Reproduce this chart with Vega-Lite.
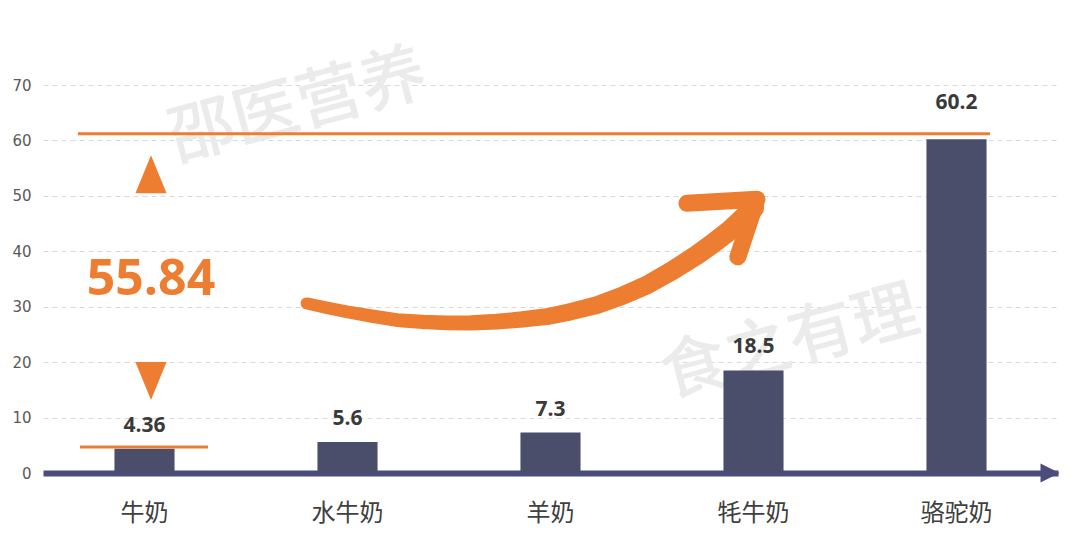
{
  "$schema": "https://vega.github.io/schema/vega-lite/v6.json",
  "width": 1015,
  "height": 388,
  "autosize": {"type": "none"},
  "padding": {"left": 43, "top": 85, "right": 22, "bottom": 62},
  "background": "white",
  "config": {
    "view": {"stroke": null},
    "axisY": {"labelFont": "DejaVu Sans", "labelFontSize": 15, "labelColor": "#595959", "labelPadding": 12}
  },
  "datasets": {
    "milk": [
      {"name": "牛奶", "value": 4.36},
      {"name": "水牛奶", "value": 5.6},
      {"name": "羊奶", "value": 7.3},
      {"name": "牦牛奶", "value": 18.5},
      {"name": "骆驼奶", "value": 60.2}
    ],
    "watermarks": [
      {"text": "邵医营养", "u": 1.256, "v": 66.0},
      {"text": "食之有理", "u": 3.68, "v": 23.3}
    ],
    "refs": [
      {"u": 0.172, "u2": 4.665, "v": 61.2},
      {"u": 0.182, "u2": 0.813, "v": 4.7}
    ],
    "diff": [
      {"u": 0.532, "v": 34.8, "label": "55.84", "up": 53.9, "down": 16.6}
    ],
    "curve": [
      {"u": 1.299, "v": 30.6},
      {"u": 1.40, "v": 29.8},
      {"u": 1.496, "v": 29.1},
      {"u": 1.62, "v": 28.3},
      {"u": 1.742, "v": 27.6},
      {"u": 1.87, "v": 27.25},
      {"u": 1.989, "v": 27.1},
      {"u": 2.11, "v": 27.1},
      {"u": 2.235, "v": 27.3},
      {"u": 2.36, "v": 27.7},
      {"u": 2.481, "v": 28.2},
      {"u": 2.60, "v": 29.1},
      {"u": 2.728, "v": 30.3},
      {"u": 2.85, "v": 31.9},
      {"u": 2.974, "v": 33.9},
      {"u": 3.10, "v": 36.5},
      {"u": 3.220, "v": 39.3},
      {"u": 3.30, "v": 41.4},
      {"u": 3.384, "v": 43.8},
      {"u": 3.45, "v": 46.0},
      {"u": 3.50, "v": 47.8}
    ],
    "chevron": [
      {"k": 1, "u": 3.172, "v": 48.65},
      {"k": 2, "u": 3.517, "v": 49.4},
      {"k": 3, "u": 3.423, "v": 39.0}
    ]
  },
  "resolve": {"scale": {"x": "independent", "size": "independent"}, "axis": {"x": "independent"}},
  "layer": [
    {
      "data": {"name": "milk"},
      "mark": {"type": "bar", "color": "#4B4E6A", "opacity": 0},
      "encoding": {
        "x": {
          "field": "name", "type": "nominal", "sort": null,
          "scale": {"domain": ["牛奶", "水牛奶", "羊奶", "牦牛奶", "骆驼奶"], "paddingInner": 0.704, "paddingOuter": 0.352},
          "axis": {"title": null, "labelAngle": 0, "labelFont": "Noto Sans CJK SC", "labelFontSize": 24, "labelColor": "#404040", "labelPadding": 28, "ticks": false, "domainColor": "#4A4D7C", "domainWidth": 6}
        },
        "y": {
          "field": "value", "type": "quantitative", "title": null,
          "scale": {"domain": [0, 70], "nice": false},
          "axis": {"values": [0, 10, 20, 30, 40, 50, 60, 70], "grid": true, "gridDash": [5, 4], "gridColor": "#d9d9d9", "gridWidth": 1, "domain": false, "ticks": false, "labelPadding": 12, "labelFont": "DejaVu Sans", "labelFontSize": 15, "labelColor": "#595959"}
        }
      }
    },
    {
      "data": {"name": "watermarks"},
      "mark": {"type": "text", "font": "Noto Sans CJK SC", "fontWeight": 500, "fontSize": 66, "angle": -15, "color": "#ebebeb", "align": "center", "baseline": "middle"},
      "encoding": {
        "x": {"field": "u", "type": "quantitative", "scale": {"domain": [0, 5], "nice": false, "zero": false}, "axis": null},
        "y": {"field": "v", "type": "quantitative", "title": null, "scale": {"domain": [0, 70], "nice": false}},
        "text": {"field": "text"}
      }
    },
    {
      "data": {"name": "milk"},
      "mark": {"type": "bar", "color": "#4B4E6A"},
      "encoding": {
        "x": {"field": "name", "type": "nominal", "sort": null, "scale": {"domain": ["牛奶", "水牛奶", "羊奶", "牦牛奶", "骆驼奶"], "paddingInner": 0.704, "paddingOuter": 0.352}, "axis": null},
        "y": {"field": "value", "type": "quantitative", "title": null, "scale": {"domain": [0, 70], "nice": false}}
      }
    },
    {
      "data": {"name": "milk"},
      "transform": [{"filter": "datum.value < 50"}],
      "mark": {"type": "text", "font": "Open Sans", "fontWeight": "bold", "fontSize": 21, "color": "#3a3a3a", "dy": -23},
      "encoding": {
        "x": {"field": "name", "type": "nominal", "sort": null, "scale": {"domain": ["牛奶", "水牛奶", "羊奶", "牦牛奶", "骆驼奶"], "paddingInner": 0.704, "paddingOuter": 0.352}, "axis": null},
        "y": {"field": "value", "type": "quantitative", "title": null, "scale": {"domain": [0, 70], "nice": false}},
        "text": {"field": "value", "type": "nominal"}
      }
    },
    {
      "data": {"name": "milk"},
      "transform": [{"filter": "datum.value >= 50"}],
      "mark": {"type": "text", "font": "Open Sans", "fontWeight": "bold", "fontSize": 21, "color": "#3a3a3a", "dy": -36},
      "encoding": {
        "x": {"field": "name", "type": "nominal", "sort": null, "scale": {"domain": ["牛奶", "水牛奶", "羊奶", "牦牛奶", "骆驼奶"], "paddingInner": 0.704, "paddingOuter": 0.352}, "axis": null},
        "y": {"field": "value", "type": "quantitative", "title": null, "scale": {"domain": [0, 70], "nice": false}},
        "text": {"field": "value", "type": "nominal"}
      }
    },
    {
      "data": {"name": "refs"},
      "mark": {"type": "rule", "color": "#ED7D31", "strokeWidth": 3},
      "encoding": {
        "x": {"field": "u", "type": "quantitative", "scale": {"domain": [0, 5], "nice": false, "zero": false}, "axis": null},
        "x2": {"field": "u2"},
        "y": {"field": "v", "type": "quantitative", "title": null, "scale": {"domain": [0, 70], "nice": false}}
      }
    },
    {
      "data": {"name": "diff"},
      "mark": {"type": "point", "filled": true, "opacity": 1, "color": "#ED7D31", "shape": "M0,-1L0.82,1L-0.82,1Z", "size": 1444},
      "encoding": {
        "x": {"field": "u", "type": "quantitative", "scale": {"domain": [0, 5], "nice": false, "zero": false}, "axis": null},
        "y": {"field": "up", "type": "quantitative", "title": null, "scale": {"domain": [0, 70], "nice": false}}
      }
    },
    {
      "data": {"name": "diff"},
      "mark": {"type": "point", "filled": true, "opacity": 1, "color": "#ED7D31", "shape": "M0,1L0.82,-1L-0.82,-1Z", "size": 1444},
      "encoding": {
        "x": {"field": "u", "type": "quantitative", "scale": {"domain": [0, 5], "nice": false, "zero": false}, "axis": null},
        "y": {"field": "down", "type": "quantitative", "title": null, "scale": {"domain": [0, 70], "nice": false}}
      }
    },
    {
      "data": {"name": "diff"},
      "mark": {"type": "text", "font": "Open Sans", "fontWeight": "bold", "fontSize": 50, "color": "#ED7D31", "align": "center", "baseline": "middle"},
      "encoding": {
        "x": {"field": "u", "type": "quantitative", "scale": {"domain": [0, 5], "nice": false, "zero": false}, "axis": null},
        "y": {"field": "v", "type": "quantitative", "title": null, "scale": {"domain": [0, 70], "nice": false}},
        "text": {"field": "label"}
      }
    },
    {
      "data": {"name": "curve"},
      "mark": {"type": "trail", "color": "#ED7D31"},
      "encoding": {
        "x": {"field": "u", "type": "quantitative", "scale": {"domain": [0, 5], "nice": false, "zero": false}, "axis": null},
        "y": {"field": "v", "type": "quantitative", "title": null, "scale": {"domain": [0, 70], "nice": false}},
        "size": {"field": "u", "type": "quantitative", "scale": {"domain": [1.3, 3.5], "range": [12, 21], "zero": false}, "legend": null}
      }
    },
    {
      "data": {"name": "chevron"},
      "mark": {"type": "line", "color": "#ED7D31", "strokeWidth": 17, "strokeCap": "round", "strokeJoin": "round"},
      "encoding": {
        "x": {"field": "u", "type": "quantitative", "scale": {"domain": [0, 5], "nice": false, "zero": false}, "axis": null},
        "y": {"field": "v", "type": "quantitative", "title": null, "scale": {"domain": [0, 70], "nice": false}},
        "order": {"field": "k", "type": "quantitative"}
      }
    },
    {
      "data": {"values": [{"v": 0}]},
      "mark": {"type": "point", "filled": true, "opacity": 1, "color": "#4A4D7C", "shape": "M1,0L-1,-1L-1,1Z", "size": 361, "xOffset": -8},
      "encoding": {
        "x": {"value": "width"},
        "y": {"field": "v", "type": "quantitative", "title": null, "scale": {"domain": [0, 70], "nice": false}}
      }
    }
  ]
}
